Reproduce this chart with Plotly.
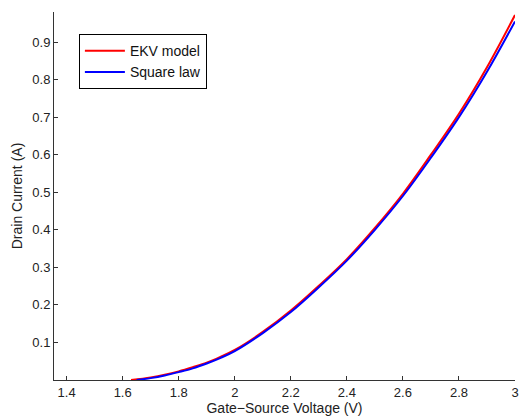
import plotly.graph_objects as go

# Gate-source voltage samples (V) and drain current readings (A)
vgs_ekv = [1.63, 1.7, 1.75, 1.8, 1.85, 1.9, 1.95, 2.0, 2.1, 2.2, 2.3, 2.4, 2.5, 2.6, 2.7, 2.8, 2.9, 3.0]
id_ekv = [0.0, 0.007, 0.014, 0.023, 0.034, 0.046, 0.062, 0.080, 0.128, 0.185, 0.251, 0.322, 0.405, 0.496, 0.600, 0.709, 0.833, 0.972]

vgs_sq = [1.65, 1.7, 1.75, 1.8, 1.85, 1.9, 1.95, 2.0, 2.1, 2.2, 2.3, 2.4, 2.5, 2.6, 2.7, 2.8, 2.9, 3.0]
id_sq = [0.0, 0.005, 0.012, 0.021, 0.031, 0.044, 0.059, 0.077, 0.125, 0.181, 0.247, 0.318, 0.400, 0.490, 0.592, 0.700, 0.821, 0.955]

x_ticks = [1.4, 1.6, 1.8, 2.0, 2.2, 2.4, 2.6, 2.8, 3.0]
x_tick_labels = ["1.4", "1.6", "1.8", "2", "2.2", "2.4", "2.6", "2.8", "3"]
y_ticks = [0.1, 0.2, 0.3, 0.4, 0.5, 0.6, 0.7, 0.8, 0.9]
y_tick_labels = ["0.1", "0.2", "0.3", "0.4", "0.5", "0.6", "0.7", "0.8", "0.9"]

fig = go.Figure()
fig.add_trace(go.Scatter(x=vgs_ekv, y=id_ekv, mode="lines", name="EKV model",
                         line=dict(color="#ff0000", width=2, shape="spline")))
fig.add_trace(go.Scatter(x=vgs_sq, y=id_sq, mode="lines", name="Square law",
                         line=dict(color="#0000ff", width=2, shape="spline")))

axis_common = dict(showgrid=False, zeroline=False, showline=True, linecolor="#333333",
                   linewidth=1, ticks="inside", ticklen=4, tickcolor="#333333",
                   tickfont=dict(size=13, color="#222222"), mirror=False)

fig.update_layout(
    width=523, height=420,
    margin=dict(l=54, r=4, t=12, b=40),
    paper_bgcolor="white", plot_bgcolor="white",
    font=dict(family="Liberation Sans, Arial, sans-serif", size=13, color="#222222"),
    xaxis=dict(range=[1.355, 3.0], tickvals=x_ticks, ticktext=x_tick_labels,
               title=dict(text="Gate\u2212Source Voltage (V)", font=dict(size=14), standoff=4),
               **axis_common),
    yaxis=dict(range=[0, 0.98], tickvals=y_ticks, ticktext=y_tick_labels,
               title=dict(text="Drain Current (A)", font=dict(size=14), standoff=6),
               **axis_common),
    legend=dict(x=0.054, y=0.94, xanchor="left", yanchor="top",
                bordercolor="black", borderwidth=1, bgcolor="white",
                font=dict(size=14, color="#111111"), tracegroupgap=0, itemwidth=40),
    showlegend=True,
)

fig.write_html("out.html", config={"displayModeBar": False},
               post_script="document.body.style.margin='0';document.body.style.overflow='hidden';")
